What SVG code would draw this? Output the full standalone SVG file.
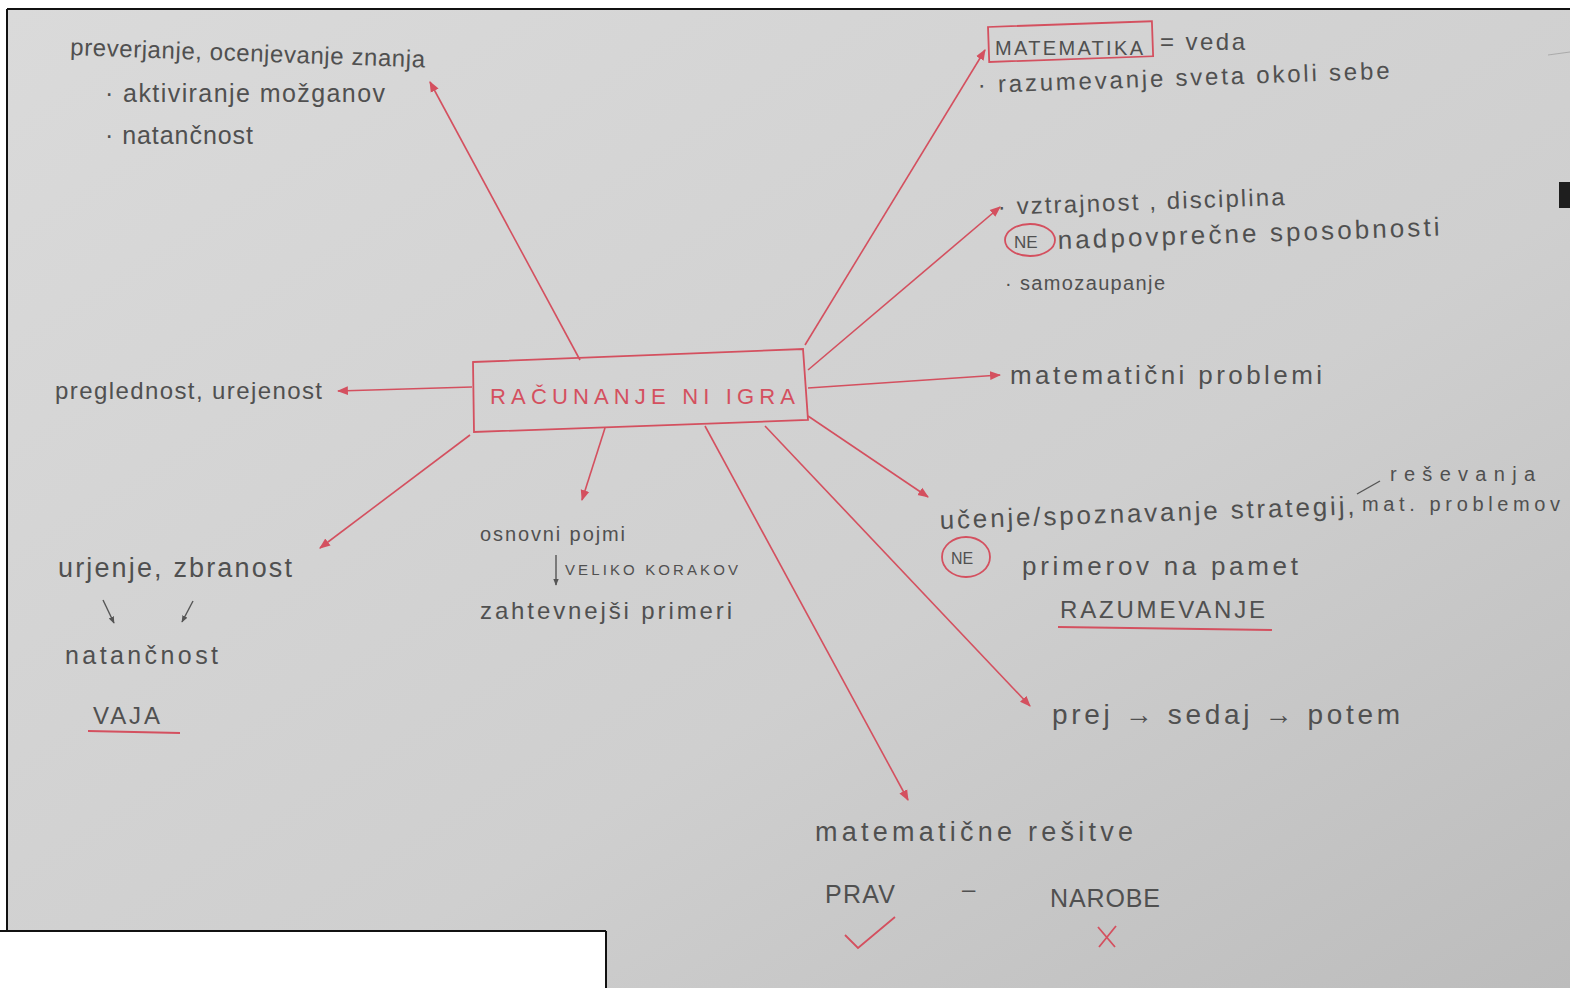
<svg xmlns="http://www.w3.org/2000/svg" width="1570" height="988" viewBox="0 0 1570 988">
<defs>
<linearGradient id="bg" x1="0" y1="0" x2="1" y2="1">
<stop offset="0" stop-color="#dadada"/>
<stop offset="0.6" stop-color="#cfcfcf"/>
<stop offset="1" stop-color="#bcbcbc"/>
</linearGradient>
<marker id="ah" viewBox="0 0 10 10" refX="9" refY="5" markerWidth="11" markerHeight="11" markerUnits="userSpaceOnUse" orient="auto">
<path d="M0,1 L10,5 L0,9 z" fill="#d4505f"/>
</marker>
<marker id="gh" viewBox="0 0 10 10" refX="9" refY="5" markerWidth="7" markerHeight="7" markerUnits="userSpaceOnUse" orient="auto">
<path d="M0,1 L10,5 L0,9 z" fill="#555"/>
</marker>
</defs>
<style>
.t{font-family:"Liberation Sans",Arial,sans-serif;font-size:24px;fill:#505050}
.s{font-family:"Liberation Sans",Arial,sans-serif;font-size:20px;fill:#505050}
.r{font-family:"Liberation Sans",Arial,sans-serif;font-size:22px;fill:#d4505f}
.c{stroke:#d4505f;stroke-width:1.6;fill:none;marker-end:url(#ah)}
.red{stroke:#d4505f;stroke-width:1.8;fill:none}
.g{stroke:#555;stroke-width:1.4;fill:none;marker-end:url(#gh)}
</style>
<rect x="0" y="0" width="1570" height="988" fill="#ffffff"/>
<rect x="7" y="9" width="1563" height="979" fill="url(#bg)"/>
<line x1="7" y1="9" x2="1570" y2="9" stroke="#111" stroke-width="2"/>
<line x1="7" y1="9" x2="7" y2="931" stroke="#111" stroke-width="2"/>
<rect x="1559" y="182" width="11" height="26" fill="#1e1e1e"/>
<line x1="1548" y1="55" x2="1570" y2="52" stroke="#aaa" stroke-width="1"/>

<g id="connectors">
<line class="c" x1="580" y1="360" x2="430" y2="82"/>
<line class="c" x1="805" y1="345" x2="985" y2="50"/>
<line class="c" x1="808" y1="370" x2="1000" y2="207"/>
<line class="c" x1="808" y1="388" x2="1000" y2="375"/>
<line class="c" x1="808" y1="416" x2="928" y2="497"/>
<line class="c" x1="765" y1="426" x2="1030" y2="706"/>
<line class="c" x1="705" y1="426" x2="908" y2="800"/>
<line class="c" x1="605" y1="428" x2="582" y2="500"/>
<line class="c" x1="470" y1="435" x2="320" y2="548"/>
<line class="c" x1="472" y1="387" x2="338" y2="391"/>
</g>

<g id="center">
<path d="M473,362 L803,349 L808,420 L474,432 Z" class="red"/>
<text class="r" x="490" y="404" textLength="305" lengthAdjust="spacing">RAČUNANJE  NI  IGRA</text>
</g>

<g id="preverjanje">
<text class="t" x="70" y="55" textLength="355" lengthAdjust="spacing" transform="rotate(2 70 55)">preverjanje, ocenjevanje znanja</text>
<text class="t" x="105" y="102" textLength="280" lengthAdjust="spacing" style="font-size:25px">· aktiviranje možganov</text>
<text class="t" x="105" y="144" textLength="148" lengthAdjust="spacing" style="font-size:25px">· natančnost</text>
</g>

<g id="matematika">
<rect x="988" y="27" width="164" height="35" class="red" transform="rotate(-2 988 27)"/>
<text class="t" x="995" y="55" textLength="148" lengthAdjust="spacing" style="font-size:20px">MATEMATIKA</text>
<text class="t" x="1160" y="50" textLength="85" lengthAdjust="spacing">= veda</text>
<text class="t" x="978" y="93" textLength="412" lengthAdjust="spacing" transform="rotate(-2 978 93)">· razumevanje  sveta  okoli  sebe</text>
</g>

<g id="vztrajnost">
<text class="t" x="998" y="215" textLength="287" lengthAdjust="spacing" transform="rotate(-2 998 215)">· vztrajnost , disciplina</text>
<ellipse cx="1030" cy="240" rx="25" ry="16" class="red"/>
<text class="t" x="1014" y="248" style="font-size:17px">NE</text>
<text class="t" x="1058" y="249" textLength="382" lengthAdjust="spacing" style="font-size:26px" transform="rotate(-2 1058 249)">nadpovprečne  sposobnosti</text>
<text class="t" x="1005" y="290" textLength="160" lengthAdjust="spacing" style="font-size:20px">· samozaupanje</text>
</g>

<g id="problemi">
<text class="t" x="1010" y="384" textLength="312" lengthAdjust="spacing" style="font-size:26px">matematični   problemi</text>
</g>

<g id="ucenje">
<text class="t" x="940" y="529" textLength="415" lengthAdjust="spacing" style="font-size:26px" transform="rotate(-2 940 529)">učenje/spoznavanje  strategij,</text>
<line x1="1357" y1="494" x2="1380" y2="481" stroke="#555" stroke-width="1.4"/>
<text class="s" x="1390" y="481" textLength="145" lengthAdjust="spacing">reševanja</text>
<text class="s" x="1362" y="511" textLength="198" lengthAdjust="spacing">mat. problemov</text>
<ellipse cx="966" cy="557" rx="24" ry="20" class="red"/>
<text class="t" x="951" y="564" style="font-size:16px">NE</text>
<text class="t" x="1022" y="575" textLength="276" lengthAdjust="spacing" style="font-size:26px">primerov  na  pamet</text>
<text class="t" x="1060" y="618" textLength="205" lengthAdjust="spacing">RAZUMEVANJE</text>
<line x1="1058" y1="627" x2="1272" y2="630" class="red"/>
</g>

<g id="prej">
<text class="t" x="1052" y="724" textLength="348" lengthAdjust="spacing" style="font-size:28px">prej  →  sedaj  →  potem</text>
</g>

<g id="resitve">
<text class="t" x="815" y="841" textLength="318" lengthAdjust="spacing" style="font-size:27px">matematične   rešitve</text>
<text class="t" x="825" y="903" textLength="70" lengthAdjust="spacing" style="font-size:25px">PRAV</text>
<text class="t" x="962" y="897">–</text>
<text class="t" x="1050" y="907" textLength="110" lengthAdjust="spacing" style="font-size:25px">NAROBE</text>
<path d="M845,935 L858,948 L895,917" class="red"/>
<path d="M1098,927 L1115,947 M1116,926 L1099,947" class="red"/>
</g>

<g id="preglednost">
<text class="t" x="55" y="399" textLength="267" lengthAdjust="spacing">preglednost, urejenost</text>
</g>

<g id="urjenje">
<text class="t" x="58" y="577" textLength="234" lengthAdjust="spacing" style="font-size:27px">urjenje,  zbranost</text>
<line class="g" x1="103" y1="600" x2="114" y2="623"/>
<line class="g" x1="193" y1="601" x2="182" y2="622"/>
<text class="t" x="65" y="664" textLength="153" lengthAdjust="spacing" style="font-size:25px">natančnost</text>
<text class="t" x="93" y="724" textLength="67" lengthAdjust="spacing">VAJA</text>
<line x1="88" y1="731" x2="180" y2="733" class="red"/>
</g>

<g id="osnovni">
<text class="t" x="480" y="541" textLength="145" lengthAdjust="spacing" style="font-size:20px">osnovni  pojmi</text>
<line class="g" x1="556" y1="555" x2="556" y2="585"/>
<text class="s" x="565" y="575" textLength="173" lengthAdjust="spacing" style="font-size:15px">VELIKO  KORAKOV</text>
<text class="t" x="480" y="619" textLength="252" lengthAdjust="spacing">zahtevnejši   primeri</text>
</g>

<rect x="0" y="931" width="606" height="57" fill="#ffffff"/>
<line x1="0" y1="931" x2="606" y2="931" stroke="#111" stroke-width="2"/>
<line x1="606" y1="931" x2="606" y2="988" stroke="#111" stroke-width="2"/>
</svg>
